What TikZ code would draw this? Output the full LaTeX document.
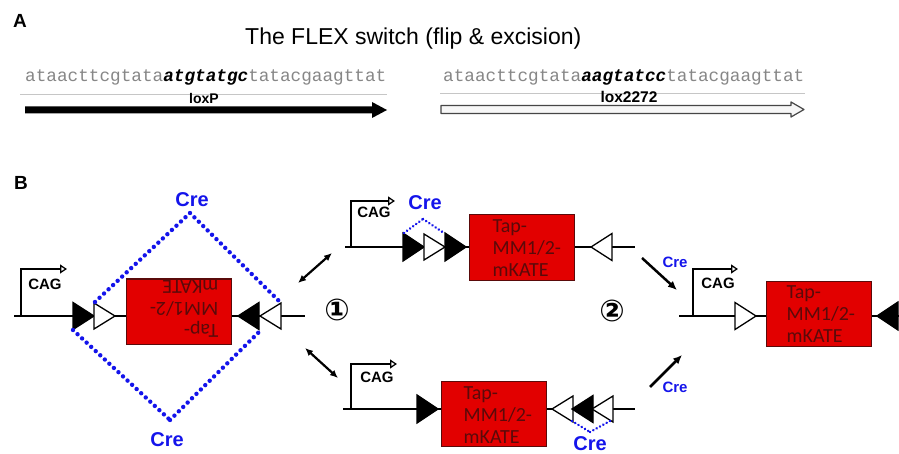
\documentclass[tikz,border=0pt]{standalone}
\usepackage{fontspec}
\setmainfont{Liberation Sans}
\newfontfamily\seqfont{Liberation Mono}
\newfontfamily\boxfont{Carlito}
\newfontfamily\circfont{DejaVu Sans}
\usetikzlibrary{arrows.meta,calc,decorations.markings}
\definecolor{crebl}{RGB}{20,20,235}
\definecolor{boxred}{RGB}{226,0,0}
\definecolor{boxtxt}{RGB}{90,10,10}
\definecolor{seqgray}{RGB}{135,135,135}
\tikzset{
 dna/.style={line width=2pt},
 prom/.style={line width=2pt, -{Triangle[open,length=7pt,width=9pt,line width=1.3pt]}},
 redbox/.style={draw=boxtxt, line width=1pt, fill=boxred, minimum width=105pt, minimum height=65pt, inner sep=0},
 boxlbl/.style={font=\boxfont\fontsize{20}{22}\selectfont, text=boxtxt, align=left, inner sep=0},
 fillTri/.style={fill=black, draw=black, line width=1.3pt, line join=miter},
 openTri/.style={fill=white, draw=black, line width=1.3pt, line join=miter},
 creDots/.style={decoration={markings, mark=between positions 0 and 1 step 6.2pt with {\fill[crebl] (0,0) circle (2.2pt);}}, decorate},
 creSmall/.style={decoration={markings, mark=between positions 0 and 1 step 3.8pt with {\fill[crebl] (0,0) circle (1.4pt);}}, decorate},
 cretext/.style={text=crebl, font=\bfseries\fontsize{20}{20}\selectfont, inner sep=0},
 cresmall/.style={text=crebl, font=\bfseries\fontsize{15}{15}\selectfont, inner sep=0},
 cag/.style={font=\bfseries\fontsize{15}{15}\selectfont, inner sep=0},
 panel/.style={font=\bfseries\fontsize{19}{19}\selectfont, inner sep=0},
 seq/.style={font=\seqfont\fontsize{17.7}{18}\selectfont, text=seqgray, inner sep=0},
 circnum/.style={font=\circfont\bfseries\fontsize{30}{30}\selectfont, inner sep=0},
 dbl/.style={line width=2.2pt, {Latex[length=8pt,width=7pt]}-{Latex[length=8pt,width=7pt]}},
 crearr/.style={line width=2.5pt, -{Latex[length=9pt,width=8pt]}},
}
% right-pointing triangle: base x, centre y, half height, style
\newcommand{\triR}[4]{\path[#4] (#1,#2-#3) -- (#1+21,#2) -- (#1,#2+#3) -- cycle;}
% left-pointing triangle: tip x, centre y, half height, style
\newcommand{\triL}[4]{\path[#4] (#1,#2) -- (#1+21,#2-#3) -- (#1+21,#2+#3) -- cycle;}
\begin{document}
\begin{tikzpicture}[x=1pt,y=-1pt]
\useasboundingbox[fill=white] (0,0) rectangle (899,454);
% ---------------- Panel A
\node[panel, anchor=base west] (pA) at (13,28) {A};
\node[inner sep=0, font=\fontsize{23}{23}\selectfont, anchor=base west] (title) at (245,45) {The FLEX switch (flip \& excision)};
\node[seq, anchor=base west] (seqL) at (25,82) {ataacttcgtata{\color{black}\bfseries\itshape atgtatgc}tatacgaagttat};
\node[seq, anchor=base west] (seqR) at (443,82) {ataacttcgtata{\color{black}\bfseries\itshape aagtatcc}tatacgaagttat};
\draw[gray!45, line width=0.8pt] (20,94) -- (387,94);
\draw[gray!45, line width=0.8pt] (440,93) -- (805,93);
\fill[black] (25,106.5) -- (372,106.5) -- (372,102) -- (387,110) -- (372,118) -- (372,113.5) -- (25,113.5) -- cycle;
\filldraw[fill=gray!6, draw=gray!55!black, line width=1.2pt, line join=round] (441,105.5) -- (791,105.5) -- (791,102) -- (804,109.5) -- (791,117) -- (791,113.5) -- (441,113.5) -- cycle;
\node[inner sep=0, font=\bfseries\fontsize{14}{14}\selectfont, anchor=base] (loxP) at (204,104) {loxP};
\node[inner sep=0, font=\bfseries\fontsize{15.5}{15.5}\selectfont, anchor=base] (lox2272) at (629,103) {lox2272};
% ---------------- Panel B
\node[panel, anchor=base west] (pB) at (14,190) {B};
% ---- left construct (y = 316)
\draw[dna] (14,316) -- (305,316);
\draw[prom] (21,316) -- (21,269) -- (67,269);
\node[cag, anchor=base] (cag1) at (45,290) {CAG};
\triR{73}{316}{13.5}{fillTri}
\triR{94}{316}{13}{openTri}
\node[redbox] (box1) at (178.5,311.5) {};
\node[boxlbl, rotate=180, anchor=north west] (lbl1) at ($(box1.south east)+(-13,-7)$) {Tap-\\MM1/2-\\mKATE};
\triL{238}{316}{13.5}{fillTri}
\triL{260}{316}{13}{openTri}
\path[creDots] (95,302) -- (190,213);
\path[creDots] (190,213) -- (280,302);
\path[creDots] (73,330) -- (170,420);
\path[creDots] (170,420) -- (261,330);
\node[cretext, anchor=base] (cre1) at (192,207) {Cre};
\node[cretext, anchor=base] (cre2) at (167,446) {Cre};
% ---- transitions 1
\coordinate (d1a) at (298,283); \coordinate (d1b) at (332,253);
\coordinate (d2a) at (305,348); \coordinate (d2b) at (338,378);
\draw[dbl] (d1a) -- (d1b);
\draw[dbl] (d2a) -- (d2b);
\node[circnum] (n1) at (337,310) {①};
% ---- upper middle construct (y = 247)
\draw[dna] (345,247) -- (635,247);
\draw[prom] (351,247) -- (351,201) -- (395,201);
\node[cag, anchor=base] (cag2) at (374,218) {CAG};
\triR{403}{247}{14}{fillTri}
\triR{424}{247}{13}{openTri}
\triR{445}{247}{14}{fillTri}
\node[redbox] (box2) at (521.5,247.5) {};
\node[boxlbl, anchor=north west] (lbl2) at ($(box2.north west)+(24,5)$) {Tap-\\MM1/2-\\mKATE};
\triL{591}{247}{13.5}{openTri}
\path[creSmall] (404,233) -- (423,219);
\path[creSmall] (423,219) -- (444,233);
\node[cretext, anchor=base] (cre3) at (425,210) {Cre};
% ---- lower middle construct (y = 409)
\draw[dna] (343,409) -- (635,409);
\draw[prom] (351,409) -- (351,364) -- (397,364);
\node[cag, anchor=base] (cag3) at (377,382) {CAG};
\triR{417}{409}{14}{fillTri}
\node[redbox] (box3) at (493.5,414) {};
\node[boxlbl, anchor=north west] (lbl3) at ($(box3.north west)+(23,5)$) {Tap-\\MM1/2-\\mKATE};
\triL{552}{409}{13}{openTri}
\triL{572}{409}{13.5}{fillTri}
\triL{592}{409}{13}{openTri}
\path[creSmall] (572,421) -- (590,432);
\path[creSmall] (590,432) -- (610,421);
\node[cretext, anchor=base] (cre4) at (590,450) {Cre};
% ---- transitions 2
\coordinate (c1a) at (642,258); \coordinate (c1b) at (677,290);
\coordinate (c2a) at (650,387); \coordinate (c2b) at (682,355);
\draw[crearr] (c1a) -- (c1b);
\draw[crearr] (c2a) -- (c2b);
\node[cresmall, anchor=base] (cre5) at (675,268) {Cre};
\node[cresmall, anchor=base] (cre6) at (675,392) {Cre};
\node[circnum] (n2) at (612,311) {②};
% ---- right construct (y = 316)
\draw[dna] (679,316) -- (899,316);
\draw[prom] (693,316) -- (693,269) -- (738,269);
\node[cag, anchor=base] (cag4) at (718,288) {CAG};
\triR{735}{316}{13.5}{openTri}
\node[redbox] (box4) at (818.5,313.5) {};
\node[boxlbl, anchor=north west] (lbl4) at ($(box4.north west)+(21,5)$) {Tap-\\MM1/2-\\mKATE};
\triL{877}{316}{14}{fillTri}
\end{tikzpicture}
\end{document}
